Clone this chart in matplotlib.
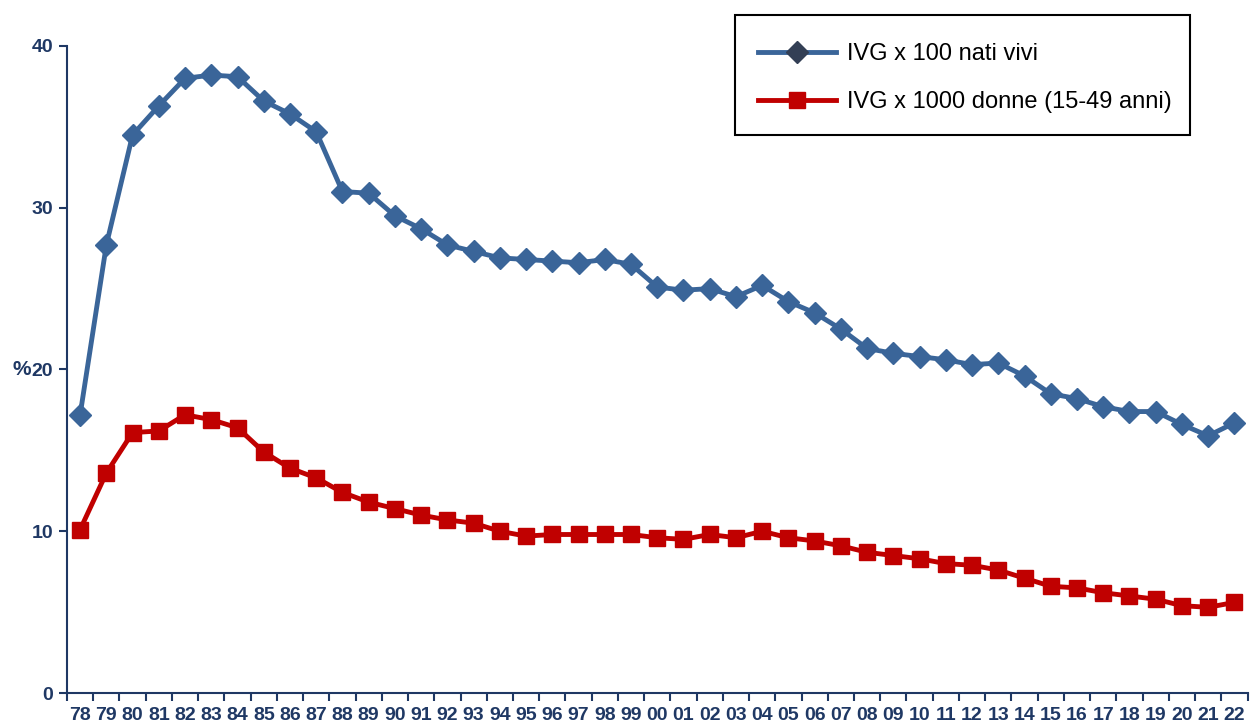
import numpy as np
import matplotlib.pyplot as plt
from matplotlib.patches import Rectangle
from matplotlib.ticker import FixedLocator

# anni (etichette asse x)
years = ["78", "79", "80", "81", "82", "83", "84", "85", "86", "87", "88", "89",
         "90", "91", "92", "93", "94", "95", "96", "97", "98", "99", "00", "01",
         "02", "03", "04", "05", "06", "07", "08", "09", "10", "11", "12", "13",
         "14", "15", "16", "17", "18", "19", "20", "21", "22"]

# IVG x 100 nati vivi
ivg_nati = [17.2, 27.7, 34.5, 36.3, 38.0, 38.2, 38.1, 36.6, 35.8, 34.7, 31.0, 30.9,
            29.5, 28.7, 27.7, 27.3, 26.9, 26.8, 26.7, 26.6, 26.8, 26.5, 25.1, 24.9,
            25.0, 24.5, 25.2, 24.2, 23.5, 22.5, 21.3, 21.0, 20.8, 20.6, 20.3, 20.4,
            19.6, 18.5, 18.2, 17.7, 17.4, 17.4, 16.6, 15.9, 16.7]

# IVG x 1000 donne (15-49 anni)
ivg_donne = [10.1, 13.6, 16.1, 16.2, 17.2, 16.9, 16.4, 14.9, 13.9, 13.3, 12.4, 11.8,
             11.4, 11.0, 10.7, 10.5, 10.0, 9.7, 9.8, 9.8, 9.8, 9.8, 9.6, 9.5,
             9.8, 9.6, 10.0, 9.6, 9.4, 9.1, 8.7, 8.5, 8.3, 8.0, 7.9, 7.6,
             7.1, 6.6, 6.5, 6.2, 6.0, 5.8, 5.4, 5.3, 5.6]

navy = "#1F3864"
blue = "#3A6599"
red = "#C00000"

plt.rcParams['font.family'] = ['Liberation Sans', 'DejaVu Sans']

fig = plt.figure(figsize=(12.5, 7.25), dpi=100)
ax = fig.add_axes([0.0536, 0.0441, 0.9444, 0.8925])

x = np.arange(len(years))
ax.plot(x, ivg_nati, color=blue, lw=3.5, marker="D", ms=11.5,
        mfc=blue, mec=blue, label="IVG x 100 nati vivi")
ax.plot(x, ivg_donne, color=red, lw=3.5, marker="s", ms=11.5,
        mfc=red, mec=red, label="IVG x 1000 donne (15-49 anni)")

ax.set_xlim(-0.5, len(years) - 0.5)
ax.set_ylim(0, 40)
ax.set_yticks([0, 10, 20, 30, 40])
ax.set_xticks(x)
ax.set_xticklabels(years)
ax.xaxis.set_minor_locator(FixedLocator(np.arange(-0.5, len(years), 1.0)))

ax.tick_params(axis="x", which="major", length=0, pad=10, labelsize=14,
               colors=navy)
ax.tick_params(axis="x", which="minor", length=6, width=1.5, color=navy,
               direction="out")
ax.tick_params(axis="y", length=6, width=1.5, color=navy, labelsize=14,
               labelcolor=navy, pad=4)
for lab in ax.get_xticklabels() + ax.get_yticklabels():
    lab.set_fontweight("bold")

for s in ["top", "right"]:
    ax.spines[s].set_visible(False)
for s in ["left", "bottom"]:
    ax.spines[s].set_color(navy)
    ax.spines[s].set_linewidth(1.5)

ax.set_ylabel("%", rotation=0, fontsize=15, fontweight="bold", color=navy,
              va="center", ha="center")
ax.yaxis.set_label_coords(-0.038, 0.5)

# riquadro della legenda
fig.patches.append(Rectangle((0.588, 0.8138), 0.364, 0.1655,
                             transform=fig.transFigure, fill=False,
                             edgecolor="black", linewidth=1.5, zorder=5))

leg = fig.legend(loc="upper left", bbox_to_anchor=(0.6064, 0.9407),
                 frameon=False, fontsize=17, handlelength=3.3,
                 borderpad=0, labelspacing=1.1, handletextpad=0.47,
                 borderaxespad=0)
leg.legend_handles[0].set_markerfacecolor("#333F55")
leg.legend_handles[0].set_markeredgecolor("#333F55")

fig.savefig("out.png", dpi=100)
